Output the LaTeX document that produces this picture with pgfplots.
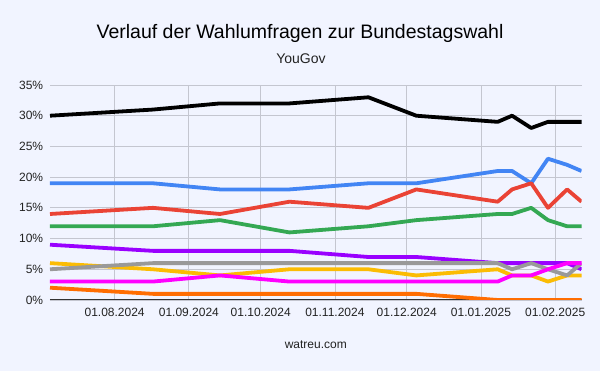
\documentclass[border=0pt]{standalone}
\usepackage{fontspec}
\setmainfont{Liberation Sans}
\usepackage{pgfplots}
\usepackage{pgfplotstable}
\pgfplotsset{compat=1.18}
\definecolor{bg}{HTML}{F1F4FF}
\definecolor{gridc}{HTML}{C4C6D0}
\definecolor{axc}{HTML}{333333}
\definecolor{txt}{HTML}{222222}
\definecolor{cblue}{HTML}{4285F4}
\definecolor{cred}{HTML}{EA4335}
\definecolor{cgreen}{HTML}{34A853}
\definecolor{cpurple}{HTML}{9900FF}
\definecolor{cyellow}{HTML}{FBBC04}
\definecolor{cgray}{HTML}{999999}
\definecolor{cmag}{HTML}{FF00FF}
\definecolor{corange}{HTML}{FF6D01}

% x = days since 01.08.2024
\pgfplotstableread{
x    black blue red green purple yellow gray magenta orange
-27  30    19   14  12    9      6      5    3       2
16   31    19   15  12    8      5      6    3       1
44   32    18   14  13    8      4      6    4       1
73   32    18   16  11    8      5      6    3       1
106  33    19   15  12    7      5      6    3       1
126  30    19   18  13    7      4      6    3       1
160  29    21   16  14    6      5      6    3       0
166  30    21   18  14    6      4      5    4       0
174  28    19   19  15    6      4      6    4       0
181  29    23   15  13    6      3      5    5       0
189  29    22   18  12    6      4      4    6       0
195  29    21   16  12    5      4      6    6       0
}\polls

\begin{document}
\begin{tikzpicture}
\fill[bg] (0pt,0pt) rectangle (600pt,371pt);
\path[use as bounding box] (0pt,0pt) rectangle (600pt,371pt);
\node[anchor=base, font=\fontsize{19.5}{22}\selectfont, text=black] at (300pt,332.7pt) {Verlauf der Wahlumfragen zur Bundestagswahl};
\node[anchor=base, font=\fontsize{14}{16}\selectfont, text=txt] at (301pt,307.7pt) {YouGov};
\node[anchor=base, font=\fontsize{12}{14}\selectfont, text=txt] at (315.8pt,22.7pt) {watreu.com};
\begin{axis}[
  at={(50pt,71pt)}, anchor=south west,
  scale only axis, width=531.5pt, height=215pt,
  xmin=-27, xmax=195, ymin=0, ymax=35,
  xtick={0,31,61,92,122,153,184},
  xticklabels={01.08.2024,01.09.2024,01.10.2024,01.11.2024,01.12.2024,01.01.2025,01.02.2025},
  ytick={0,5,...,35},
  yticklabels={0\%,5\%,10\%,15\%,20\%,25\%,30\%,35\%},
  grid=major, major grid style={gridc, line width=0.8pt},
  axis line style={draw=none},
  major tick length=0pt,
  tick label style={font=\fontsize{12}{14}\selectfont, text=txt},
  xticklabel style={inner sep=0pt, anchor=north, yshift=-8pt},
  yticklabel style={inner sep=0pt, anchor=east, xshift=-6.7pt},
  every axis plot/.append style={line width=3.8pt, line join=round, no markers},
]
\draw[axc, line width=1pt] (axis cs:-27,0) -- (axis cs:195,0);
\addplot[black]   table[x=x, y=black]   {\polls};
\addplot[cblue]   table[x=x, y=blue]    {\polls};
\addplot[cred]    table[x=x, y=red]     {\polls};
\addplot[cgreen]  table[x=x, y=green]   {\polls};
\addplot[cpurple] table[x=x, y=purple]  {\polls};
\addplot[cyellow] table[x=x, y=yellow]  {\polls};
\addplot[cgray]   table[x=x, y=gray]    {\polls};
\addplot[cmag]    table[x=x, y=magenta] {\polls};
\addplot[corange] table[x=x, y=orange]  {\polls};
\end{axis}
\end{tikzpicture}
\end{document}
